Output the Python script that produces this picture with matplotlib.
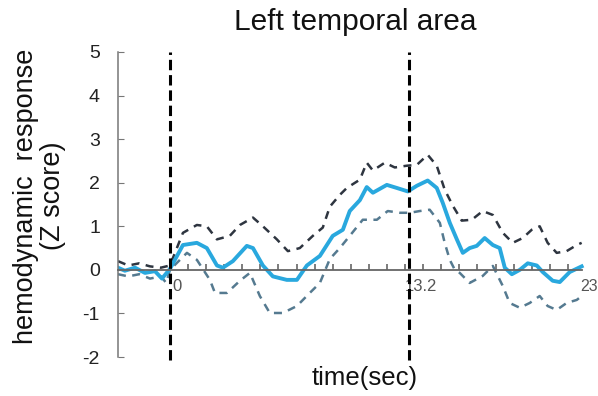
import matplotlib
matplotlib.use("Agg")
import matplotlib.pyplot as plt

plt.rcParams['axes.unicode_minus'] = False
REG = ['Liberation Sans', 'DejaVu Sans']

title = "Left temporal area"
ylabel = "hemodynamic  response\n(Z score)"
xlabel = "time(sec)"
event_times = [0, 13.2]
xtick_labels = ["0", "13.2", "23"]
xtick_pos = [0, 13.2, 23]

mean_t = [-2.87, -2.49, -1.93, -1.38, -0.83, -0.44, 0.0, 0.72, 1.49, 2.04, 2.6, 2.93,
          3.48, 4.25, 4.59, 5.14, 5.69, 6.46, 7.02, 7.57, 8.29, 9.0, 9.56, 9.94, 10.5,
          10.88, 11.22, 11.99, 12.54, 13.15, 13.65, 14.25, 14.75, 15.08, 15.47, 15.86,
          16.19, 16.57, 16.96, 17.4, 17.85, 18.23, 18.51, 18.9, 19.34, 19.78, 20.28,
          20.61, 21.16, 21.55, 22.1, 22.76]
mean_v = [0.05, -0.02, 0.05, -0.07, -0.03, -0.2, 0.02, 0.57, 0.62, 0.5, 0.1, 0.05,
          0.2, 0.55, 0.5, 0.1, -0.15, -0.23, -0.23, 0.1, 0.32, 0.78, 0.92, 1.35, 1.6,
          1.9, 1.77, 1.95, 1.88, 1.8, 1.93, 2.05, 1.88, 1.54, 1.08, 0.7,
          0.39, 0.5, 0.55, 0.73, 0.57, 0.5, 0.05, -0.1, 0.0, 0.15, 0.1,
          -0.05, -0.25, -0.28, -0.05, 0.08]

upper_t = [-2.87, -2.3, -1.7, -1.1, -0.5, 0.0, 0.72, 1.49, 2.04, 2.6, 3.31, 3.87, 4.59,
           5.14, 5.91, 6.52, 7.18, 7.9, 8.45, 8.84, 9.39, 9.78, 10.5, 10.88, 11.22,
           11.88, 12.43, 13.09, 13.65, 14.25, 14.75, 15.19, 15.64, 16.13, 16.69, 17.29,
           17.85, 18.4, 18.95, 19.5, 20.0, 20.44, 20.88, 21.38, 21.93, 22.49, 22.76]
upper_v = [0.2, 0.1, 0.15, 0.08, 0.05, 0.1, 0.85, 1.03, 1.0, 0.7, 0.78, 1.03, 1.2,
           1.0, 0.7, 0.43, 0.5, 0.78, 0.97, 1.45, 1.72, 1.88, 2.07, 2.46, 2.28,
           2.46, 2.35, 2.39, 2.41, 2.64, 2.39, 1.84, 1.47, 1.13, 1.15, 1.35,
           1.26, 0.85, 0.62, 0.73, 0.92, 1.0, 0.62, 0.39, 0.43, 0.57, 0.62]

lower_t = [-2.87, -2.3, -1.7, -1.1, -0.5, -0.2, 0.0, 0.94, 1.49, 2.21, 2.49, 3.15, 3.87,
           4.42, 4.97, 5.52, 6.24, 7.02, 7.73, 8.29, 8.84, 9.39, 9.94, 10.66, 11.44,
           12.04, 12.71, 13.26, 13.81, 14.36, 14.92, 15.19, 15.47, 15.75, 16.02, 16.57,
           17.29, 17.85, 18.4, 18.78, 19.34, 19.89, 20.44, 20.88, 21.38, 21.93, 22.49, 22.76]
lower_v = [-0.1, -0.15, -0.1, -0.2, -0.15, -0.3, 0.0, 0.39, 0.23, -0.23, -0.53, -0.53, -0.25,
           -0.07, -0.6, -0.99, -0.99, -0.83, -0.53, -0.3, 0.25, 0.5, 0.78, 1.15, 1.15,
           1.35, 1.31, 1.31, 1.35, 1.38, 1.08, 0.62, 0.23, 0.0, -0.07, -0.3,
           -0.14, 0.09, -0.37, -0.76, -0.87, -0.76, -0.6, -0.83, -0.92, -0.76, -0.69, -0.6]

fig = plt.figure(figsize=(5.98, 3.96), dpi=100)
ax = fig.add_axes([118/598, 1-357/396, 468/598, 305/396])
ax.set_xlim(-2.87, 23)
ax.set_ylim(-2, 5)

for sp in ['top', 'right']:
    ax.spines[sp].set_visible(False)
ax.spines['bottom'].set_position(('data', 0))
ax.spines['bottom'].set_color('#666666')
ax.spines['bottom'].set_bounds(-2.87, 22.8)
ax.spines['left'].set_color('#777777')
ax.spines['bottom'].set_linewidth(1.3)
ax.spines['left'].set_linewidth(1.1)

ax.set_yticks(range(-2, 6))
ax.tick_params(axis='y', direction='in', length=4, color='#777777', pad=13,
               labelsize=14, labelcolor='#222222')
for lab in ax.get_yticklabels():
    lab.set_family(REG)
ax.set_xticks([])
ax.set_xticks([t for t in range(0, 23)], minor=True)
ax.tick_params(axis='x', which='minor', direction='in', length=4, color='#666666', width=1.2)

ax.plot(upper_t, upper_v, color='#2e3540', lw=1.8, linestyle=(0, (3.2, 2.6)))
ax.plot(lower_t, lower_v, color='#557a90', lw=1.8, linestyle=(0, (3.2, 2.6)))
ax.plot(mean_t, mean_v, color='#29a8de', lw=2.8, solid_joinstyle='round')

for t in event_times:
    ax.axvline(t, ymin=-0.01, ymax=1.0, color='black', lw=2.2,
               linestyle=(0, (3.4, 1.6)), clip_on=False, zorder=5)

offsets = [0.15, -0.2]
for p, lab, off in zip(xtick_pos[:2], xtick_labels[:2], offsets):
    ax.text(p + off, -0.2, lab, ha='left', va='top', fontsize=12,
            color='#555555', family=REG)
fig.text(598/598, 1-279/396, xtick_labels[2], ha='right', va='top', fontsize=11.5,
         color='#555555', family=REG)

fig.text(355/598, 1-22/396, title, ha='center', va='center', fontsize=21.5,
         family=REG, color='#111111')
fig.text(365/598, 1-378/396, xlabel, ha='center', va='center', fontsize=18.5,
         family=REG, color='#111111')
fig.text(40/598, 1-196/396, ylabel, ha='center', va='center', fontsize=19.5,
         family=REG, color='#111111', rotation=90, linespacing=1.05,
         multialignment='center')

fig.savefig('out.png', dpi=100)
